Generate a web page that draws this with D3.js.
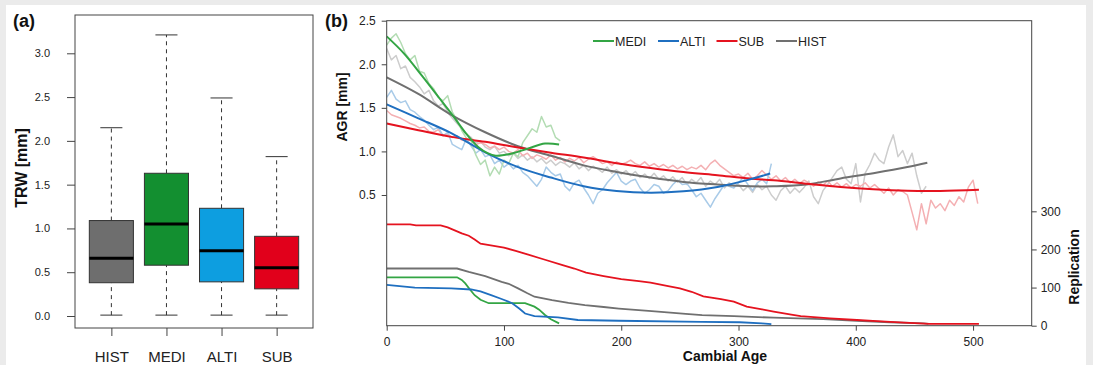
<!DOCTYPE html>
<html>
<head>
<meta charset="utf-8">
<script src="https://cdn.jsdelivr.net/npm/d3@7"></script>
<style>
  body { margin: 0; background: #ebebeb; }
  svg { display: block; font-family: "Liberation Sans", Arial, sans-serif; }
</style>
</head>
<body>
<svg id="chart" width="1093" height="365"></svg>
<script>
// ---- panel (a): TRW boxplots ----
const groups = ["HIST", "MEDI", "ALTI", "SUB"];
const boxMin = [0.01, 0.01, 0.01, 0.01];
const boxQ1 = [0.38, 0.58, 0.39, 0.31];
const boxMed = [0.66, 1.05, 0.745, 0.55];
const boxQ3 = [1.09, 1.63, 1.23, 0.91];
const boxMax = [2.15, 3.21, 2.49, 1.82];
const trwTicks = [0, 0.5, 1.0, 1.5, 2.0, 2.5, 3.0];

// ---- panel (b): AGR by cambial age ----
const rawStep = 4; // years between raw values
const rawMEDI = [2.22, 2.30, 2.35, 2.25, 2.12, 2.05, 2.10, 1.92, 1.90, 1.78, 1.72, 1.62, 1.58, 1.64, 1.45, 1.36,
  1.24, 1.15, 1.12, 0.96, 0.85, 0.90, 0.72, 0.82, 0.74, 0.90, 0.86, 0.98, 0.94, 1.10, 1.18, 1.26,
  1.22, 1.40, 1.28, 1.30, 1.16, 1.12];
const rawALTI = [1.62, 1.70, 1.60, 1.56, 1.58, 1.48, 1.45, 1.40, 1.36, 1.30, 1.25, 1.28, 1.18, 1.22, 1.08, 1.05,
  1.02, 1.15, 1.06, 0.98, 1.02, 0.94, 0.96, 0.86, 0.90, 0.82, 0.86, 0.80, 0.84, 0.76, 0.72, 0.66,
  0.60, 0.68, 0.82, 0.76, 0.72, 0.74, 0.60, 0.55, 0.64, 0.67, 0.58, 0.50, 0.40, 0.52, 0.56, 0.64,
  0.70, 0.76, 0.66, 0.62, 0.66, 0.68, 0.58, 0.52, 0.56, 0.62, 0.60, 0.52, 0.55, 0.62, 0.67, 0.62,
  0.63, 0.56, 0.48, 0.52, 0.44, 0.36, 0.46, 0.54, 0.62, 0.60, 0.58, 0.64, 0.70, 0.62, 0.55, 0.64,
  0.68, 0.63, 0.86];
const rawSUB = [1.47, 1.42, 1.40, 1.38, 1.35, 1.32, 1.30, 1.27, 1.28, 1.23, 1.22, 1.25, 1.18, 1.20, 1.16, 1.18,
  1.13, 1.12, 1.15, 1.08, 1.10, 1.08, 1.04, 1.06, 1.02, 1.05, 1.00, 0.98, 1.02, 0.95, 0.98, 0.92,
  0.96, 0.94, 0.91, 0.96, 0.90, 0.93, 0.88, 0.92, 0.89, 0.93, 0.87, 0.91, 0.94, 0.90, 0.86, 0.88,
  0.84, 0.88, 0.85, 0.87, 0.90, 0.86, 0.84, 0.88, 0.83, 0.86, 0.82, 0.85, 0.81, 0.84, 0.80, 0.83,
  0.79, 0.82, 0.80, 0.84, 0.79, 0.86, 0.90, 0.84, 0.80, 0.76, 0.72, 0.74, 0.70, 0.75, 0.68, 0.72,
  0.78, 0.73, 0.68, 0.72, 0.66, 0.70, 0.64, 0.68, 0.63, 0.67, 0.64, 0.60, 0.65, 0.61, 0.66, 0.60,
  0.64, 0.59, 0.63, 0.58, 0.62, 0.60, 0.64, 0.58, 0.62, 0.57, 0.52, 0.58, 0.50, 0.56, 0.54, 0.50,
  0.30, 0.10, 0.40, 0.17, 0.44, 0.35, 0.40, 0.32, 0.44, 0.38, 0.48, 0.42, 0.59, 0.67, 0.40];
const rawHIST = [2.18, 2.05, 2.10, 1.95, 1.98, 1.85, 1.80, 1.74, 1.66, 1.70, 1.58, 1.52, 1.55, 1.45, 1.38, 1.32,
  1.26, 1.20, 1.16, 1.10, 1.12, 1.05, 1.02, 1.06, 0.98, 1.00, 0.95, 0.98, 0.92, 0.96, 0.90, 0.94,
  0.88, 0.92, 0.86, 0.90, 0.84, 0.88, 0.86, 0.82, 0.87, 0.80, 0.84, 0.78, 0.83, 0.80, 0.76, 0.82,
  0.75, 0.79, 0.74, 0.78, 0.72, 0.77, 0.70, 0.74, 0.69, 0.75, 0.68, 0.72, 0.66, 0.71, 0.65, 0.70,
  0.62, 0.68, 0.64, 0.70, 0.60, 0.66, 0.62, 0.68, 0.58, 0.64, 0.60, 0.62, 0.55, 0.60, 0.53, 0.62,
  0.56, 0.60, 0.50, 0.44, 0.55, 0.60, 0.52, 0.58, 0.53, 0.59, 0.66, 0.48, 0.40, 0.55, 0.62, 0.70,
  0.78, 0.82, 0.68, 0.63, 0.86, 0.42, 0.75, 0.85, 0.98, 0.90, 0.86, 1.05, 1.19, 0.94, 1.01, 0.86,
  0.98, 0.72, 0.52, 0.60];

// fitted curves (age, value)
const fitAgeMEDI = [0, 15, 30, 45, 57, 68, 78, 86, 93, 105, 120, 135, 147];
const fitMEDI = [2.32, 2.12, 1.87, 1.61, 1.40, 1.20, 1.05, 0.98, 0.95, 0.97, 1.03, 1.09, 1.08];
const fitAgeALTI = [0, 27, 55, 84, 112, 140, 168, 196, 225, 253, 282, 310, 327];
const fitALTI = [1.54, 1.38, 1.21, 0.99, 0.82, 0.70, 0.60, 0.546, 0.527, 0.543, 0.592, 0.68, 0.746];
const fitAgeSUB = [0, 27, 55, 84, 112, 140, 168, 196, 225, 253, 282, 310, 330, 358, 387, 415, 444, 472, 505];
const fitSUB = [1.32, 1.244, 1.167, 1.11, 1.045, 0.985, 0.93, 0.865, 0.81, 0.764, 0.726, 0.688, 0.669, 0.63,
  0.592, 0.565, 0.548, 0.546, 0.56];
const fitAgeHIST = [0, 27, 55, 84, 112, 140, 168, 196, 225, 253, 282, 310, 330, 358, 387, 415, 444, 461];
const fitHIST = [1.85, 1.66, 1.42, 1.22, 1.06, 0.95, 0.84, 0.765, 0.70, 0.65, 0.62, 0.60, 0.60, 0.62,
  0.69, 0.75, 0.82, 0.87];

// replication (sample depth)
const repAgeMEDI = [0, 60, 64, 67, 71, 75, 80, 87, 118, 126, 130, 135, 140, 147];
const repMEDI = [127, 127, 120, 111, 95, 80, 68, 59, 59, 50, 42, 28, 17, 6];
const repAgeALTI = [0, 24, 55, 72, 80, 89, 98, 107, 113, 118, 126, 146, 163, 198, 269, 301, 320, 328];
const repALTI = [107, 100, 98, 95, 90, 80, 70, 59, 45, 32, 25, 22, 15, 13, 10, 9, 6, 4];
const repAgeSUB = [0, 20, 25, 46, 52, 58, 64, 70, 75, 80, 90, 100, 110, 120, 135, 150, 160, 170, 185, 200,
  215, 225, 240, 250, 260, 270, 285, 296, 307, 320, 330, 345, 353, 378, 401, 418, 441, 463, 505];
const repSUB = [266, 266, 263, 263, 258, 250, 242, 236, 226, 215, 210, 205, 196, 187, 173, 159, 150, 139, 130, 122,
  117, 113, 104, 98, 89, 77, 70, 63, 50, 43, 37, 29, 25, 19, 15, 12, 8, 5, 5];
const repAgeHIST = [0, 60, 70, 84, 98, 104, 112, 120, 126, 141, 155, 169, 185, 198, 226, 255, 269, 296, 330,
  372, 401, 429, 458, 462];
const repHIST = [150, 150, 141, 130, 115, 110, 98, 85, 76, 67, 60, 54, 49, 45, 38, 31, 28, 25, 21,
  17, 13, 9, 6, 5];

const agrTicks = [0.5, 1.0, 1.5, 2.0, 2.5];
const repTicks = [0, 100, 200, 300];
const ageTicks = [0, 100, 200, 300, 400, 500];
const legendOrder = ["MEDI", "ALTI", "SUB", "HIST"];

const boxColor = {HIST: "#6e6e6e", MEDI: "#138f30", ALTI: "#0d9ee0", SUB: "#e1001b"};
const lineColor = {HIST: "#707070", MEDI: "#33a544", ALTI: "#1f6fc0", SUB: "#e5131f"};
const rawColor = {HIST: "#cdcdcd", MEDI: "#b3dcb3", ALTI: "#a9cbe8", SUB: "#f4b0b3"};

const svg = d3.select("#chart");

// white sheet on grey page
svg.append("rect")
    .attr("x", 6).attr("y", 5)
    .attr("width", 1080).attr("height", 360)
    .attr("fill", "#fff");

function styleAxis(g, size) {
  g.select(".domain").remove();
  g.selectAll(".tick line").attr("stroke", "#444");
  g.selectAll(".tick text").attr("fill", "#222").style("font-size", size + "px");
}

// ================= panel (a) =================
const a = {left: 75, right: 313, top: 15, bottom: 328};
const xA = d3.scaleLinear().domain([0.34, 4.66]).range([a.left, a.right]);
const yA = d3.scaleLinear().domain([0, 3]).range([316, 53.3]);

const gA = svg.append("g");

gA.append("g")
    .attr("transform", "translate(" + a.left + ",0)")
    .call(d3.axisLeft(yA).tickValues(trwTicks).tickFormat(d3.format(".1f")).tickSize(8).tickPadding(17))
    .call(g => styleAxis(g, 11));

gA.append("g")
    .attr("transform", "translate(0," + a.bottom + ")")
    .call(d3.axisBottom(xA).tickValues([1, 2, 3, 4]).tickFormat((d) => groups[d - 1])
      .tickSize(8).tickPadding(15))
    .call(g => styleAxis(g, 15));

const boxes = groups.map((name, i) => ({
  name: name, pos: i + 1,
  min: boxMin[i], q1: boxQ1[i], med: boxMed[i], q3: boxQ3[i], max: boxMax[i]
}));

const bw = 0.4, cw = 0.2;
const bx = gA.selectAll(".box").data(boxes).enter().append("g").attr("class", "box");

bx.append("line")
    .attr("x1", d => xA(d.pos)).attr("x2", d => xA(d.pos))
    .attr("y1", d => yA(d.q3)).attr("y2", d => yA(d.max))
    .attr("stroke", "#333").attr("stroke-dasharray", "4,4");
bx.append("line")
    .attr("x1", d => xA(d.pos)).attr("x2", d => xA(d.pos))
    .attr("y1", d => yA(d.min)).attr("y2", d => yA(d.q1))
    .attr("stroke", "#333").attr("stroke-dasharray", "4,4");
bx.append("line")
    .attr("x1", d => xA(d.pos - cw)).attr("x2", d => xA(d.pos + cw))
    .attr("y1", d => yA(d.max)).attr("y2", d => yA(d.max))
    .attr("stroke", "#333");
bx.append("line")
    .attr("x1", d => xA(d.pos - cw)).attr("x2", d => xA(d.pos + cw))
    .attr("y1", d => yA(d.min)).attr("y2", d => yA(d.min))
    .attr("stroke", "#333");
bx.append("rect")
    .attr("x", d => xA(d.pos - bw))
    .attr("width", d => xA(d.pos + bw) - xA(d.pos - bw))
    .attr("y", d => yA(d.q3))
    .attr("height", d => yA(d.q1) - yA(d.q3))
    .attr("fill", d => boxColor[d.name])
    .attr("stroke", "#333");
bx.append("line")
    .attr("x1", d => xA(d.pos - bw)).attr("x2", d => xA(d.pos + bw))
    .attr("y1", d => yA(d.med)).attr("y2", d => yA(d.med))
    .attr("stroke", "#000").attr("stroke-width", 3);

gA.append("rect")
    .attr("x", a.left).attr("y", a.top)
    .attr("width", a.right - a.left).attr("height", a.bottom - a.top)
    .attr("fill", "none").attr("stroke", "#444");

gA.append("text")
    .attr("x", 13).attr("y", 27)
    .style("font-size", "18px").style("font-weight", "bold").attr("fill", "#111")
    .text("(a)");

gA.append("text")
    .attr("transform", "translate(27,168) rotate(-90)")
    .attr("text-anchor", "middle")
    .style("font-size", "16px").style("font-weight", "bold").attr("fill", "#111")
    .text("TRW [mm]");

// ================= panel (b) =================
const b = {left: 386.7, right: 1031.7, top: 20.7, bottom: 325.7};
const xB = d3.scaleLinear().domain([0, 550]).range([b.left, b.right]);
const yB = d3.scaleLinear().domain([-1, 2.5]).range([b.bottom, b.top]);
const yR = d3.scaleLinear().domain([0, 800]).range([b.bottom, b.top]);

const gB = svg.append("g");

gB.append("g")
    .attr("transform", "translate(" + b.left + ",0)")
    .call(d3.axisLeft(yB).tickValues(agrTicks).tickFormat(d3.format(".1f")).tickSize(5).tickPadding(6))
    .call(g => styleAxis(g, 12));

gB.append("g")
    .attr("transform", "translate(" + b.right + ",0)")
    .call(d3.axisRight(yR).tickValues(repTicks).tickSize(5).tickPadding(4))
    .call(g => styleAxis(g, 12));

gB.append("g")
    .attr("transform", "translate(0," + b.bottom + ")")
    .call(d3.axisBottom(xB).tickValues(ageTicks).tickSize(5).tickPadding(7))
    .call(g => styleAxis(g, 12));

gB.append("clipPath").attr("id", "clipB").append("rect")
    .attr("x", b.left).attr("y", b.top)
    .attr("width", b.right - b.left).attr("height", b.bottom - b.top);

const plot = gB.append("g").attr("clip-path", "url(#clipB)");

const rawLine = d3.line()
    .x((d, i) => xB(i * rawStep))
    .y(d => yB(d));

const rawSeries = [["HIST", rawHIST], ["SUB", rawSUB], ["ALTI", rawALTI], ["MEDI", rawMEDI]];
rawSeries.forEach(([name, vals]) => {
  plot.append("path")
      .datum(vals)
      .attr("d", rawLine)
      .attr("fill", "none")
      .attr("stroke", rawColor[name])
      .attr("stroke-width", 1.5)
      .attr("stroke-linejoin", "round");
});

const fitLine = d3.line()
    .x(d => xB(d[0]))
    .y(d => yB(d[1]))
    .curve(d3.curveCatmullRom.alpha(0.5));

const fits = [
  ["HIST", fitAgeHIST, fitHIST],
  ["SUB", fitAgeSUB, fitSUB],
  ["ALTI", fitAgeALTI, fitALTI],
  ["MEDI", fitAgeMEDI, fitMEDI]
];
fits.forEach(([name, ages, vals]) => {
  plot.append("path")
      .datum(ages.map((t, i) => [t, vals[i]]))
      .attr("d", fitLine)
      .attr("fill", "none")
      .attr("stroke", lineColor[name])
      .attr("stroke-width", 2);
});

const repLine = d3.line()
    .x(d => xB(d[0]))
    .y(d => yR(d[1]));

const reps = [
  ["HIST", repAgeHIST, repHIST],
  ["SUB", repAgeSUB, repSUB],
  ["MEDI", repAgeMEDI, repMEDI],
  ["ALTI", repAgeALTI, repALTI]
];
reps.forEach(([name, ages, vals]) => {
  plot.append("path")
      .datum(ages.map((t, i) => [t, vals[i]]))
      .attr("d", repLine)
      .attr("fill", "none")
      .attr("stroke", lineColor[name])
      .attr("stroke-width", 1.8);
});

gB.append("rect")
    .attr("x", b.left).attr("y", b.top)
    .attr("width", b.right - b.left).attr("height", b.bottom - b.top)
    .attr("fill", "none").attr("stroke", "#444");

// legend
const legendX = [593, 658, 716.5, 776];
const legend = gB.selectAll(".leg").data(legendOrder).enter().append("g")
    .attr("class", "leg")
    .attr("transform", (d, i) => "translate(" + legendX[i] + ",41)");
legend.append("line")
    .attr("x1", 0).attr("x2", 21)
    .attr("stroke", d => lineColor[d]).attr("stroke-width", 2);
legend.append("text")
    .attr("x", 22).attr("dy", "0.36em")
    .style("font-size", "12.5px").attr("fill", "#222")
    .text(d => d);

gB.append("text")
    .attr("x", 325).attr("y", 27)
    .style("font-size", "18px").style("font-weight", "bold").attr("fill", "#111")
    .text("(b)");

gB.append("text")
    .attr("transform", "translate(347,107) rotate(-90)")
    .attr("text-anchor", "middle")
    .style("font-size", "14px").style("font-weight", "bold").attr("fill", "#111")
    .text("AGR [mm]");

gB.append("text")
    .attr("transform", "translate(1079,267) rotate(-90)")
    .attr("text-anchor", "middle")
    .style("font-size", "14px").style("font-weight", "bold").attr("fill", "#111")
    .text("Replication");

gB.append("text")
    .attr("x", 725).attr("y", 361)
    .attr("text-anchor", "middle")
    .style("font-size", "14px").style("font-weight", "bold").attr("fill", "#111")
    .text("Cambial Age");
</script>
</body>
</html>
